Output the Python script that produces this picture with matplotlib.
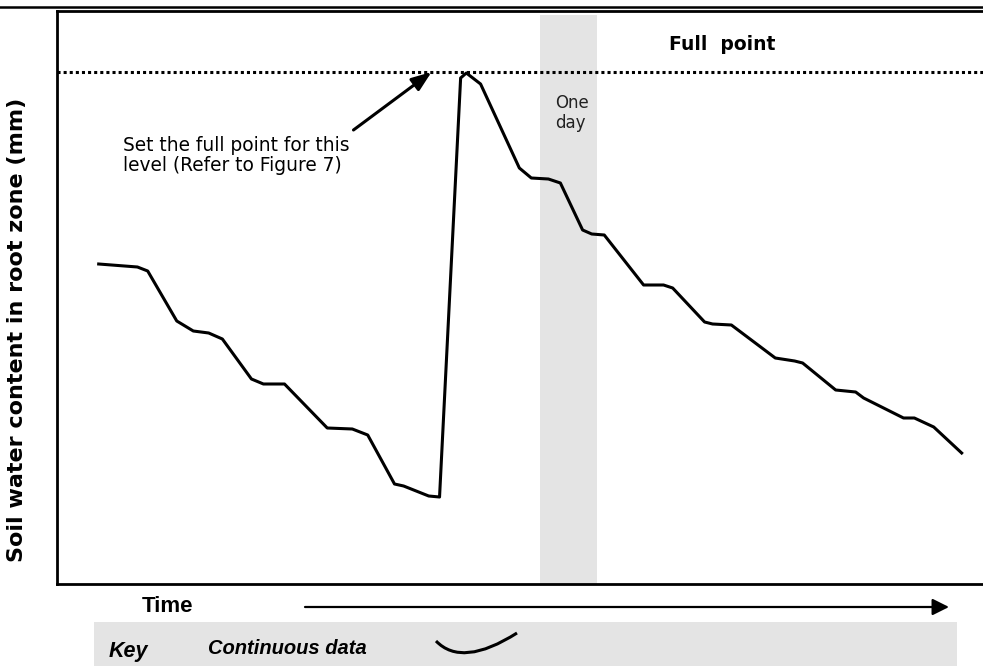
import matplotlib
matplotlib.use("Agg")
import matplotlib.pyplot as plt
from matplotlib.patches import FancyArrowPatch, Rectangle, PathPatch
from matplotlib.lines import Line2D
from matplotlib.path import Path

# ---------------- data ----------------
time_days = [0.74, 1.42, 1.60, 2.11, 2.40, 2.67, 2.91, 3.42, 3.63, 4.00,
             4.75, 5.19, 5.46, 5.93, 6.09, 6.53, 6.72,
             7.09, 7.19, 7.44, 8.12, 8.33, 8.63, 8.84,
             9.23, 9.39, 9.61, 10.30, 10.65, 10.81,
             11.37, 11.51, 11.84, 12.61, 12.95, 13.09,
             13.67, 14.02, 14.16, 14.86, 15.05, 15.39, 15.88]
water_mm = [63.6, 63.0, 62.2, 52.2, 50.2, 49.8, 48.6, 40.6, 39.6, 39.6,
            30.8, 30.6, 29.4, 19.6, 19.2, 17.2, 17.0,
            100.8, 101.8, 99.6, 82.8, 80.8, 80.6, 79.8,
            70.4, 69.6, 69.4, 59.4, 59.4, 58.8,
            52.0, 51.6, 51.4, 44.8, 44.2, 43.8,
            38.4, 38.0, 36.8, 32.8, 32.8, 31.0, 25.8]
full_point_mm = 102.0
one_day_start = 8.49
one_day_length = 1.0

ylabel = "Soil water content in root zone (mm)"
full_label = "Full  point"
day_label = "One\nday"
note_label = "Set the full point for this\nlevel (Refer to Figure 7)"
time_label = "Time"
key_label = "Key"
key_item = "Continuous data"

# ---------------- layout ----------------
W, H = 983, 666
fig = plt.figure(figsize=(W / 100, H / 100), dpi=100)


def fx(px):
    return px / W


def fy(py):
    return 1 - py / H


ax_left, ax_top, ax_bottom = 56.5, 10.5, 583.5
xmax = 16.4
px_per_day = 57
ax = fig.add_axes([fx(ax_left), fy(ax_bottom), xmax * px_per_day / W,
                   (ax_bottom - ax_top) / H])
ax.set_xlim(0, xmax)
ax.set_ylim(-0.3, 114.3)
ax.set_xticks([])
ax.set_yticks([])
for s in ax.spines.values():
    s.set_linewidth(2.0)
    s.set_color("black")

ax.axvspan(one_day_start, one_day_start + one_day_length, ymin=0, ymax=0.992,
           color="#e4e4e4", lw=0, zorder=0)
ax.axhline(full_point_mm, color="black", lw=2.2, ls=(0, (1, 1)),
           dash_capstyle="butt", zorder=2)
ax.plot(time_days, water_mm, color="black", lw=2.2,
        solid_joinstyle="round", zorder=3)

ax.text(11.67, 107.6, full_label, ha="center", va="center", fontsize=13.5,
        fontweight="bold", family="DejaVu Sans")
ax.text(8.75, 93.8, day_label, ha="left", va="center", fontsize=12,
        color="#222222", linespacing=1.15, family="DejaVu Sans")
ax.text(1.175, 89.2, note_label, ha="left", va="top", fontsize=13.4,
        family="DejaVu Sans", linespacing=1.06)
ax.annotate("", xy=(6.58, 102.0), xytext=(5.21, 90.4),
            arrowprops=dict(arrowstyle="-|>,head_length=1.2,head_width=0.45",
                            mutation_scale=10, color="black", lw=2.2,
                            shrinkA=0, shrinkB=0))

fig.text(fx(17.5), fy(330), ylabel, rotation=90, ha="center", va="center",
         fontsize=16, fontweight="bold", family="DejaVu Sans")

# header rule at top of page
fig.add_artist(Line2D([0, 1], [fy(6.5), fy(6.5)], transform=fig.transFigure,
                      color="black", lw=1.8))

# time axis arrow
fig.text(fx(168), fy(607), time_label, ha="center", va="center", fontsize=16,
         fontweight="bold", family="Liberation Sans")
fig.add_artist(FancyArrowPatch((fx(305), fy(607)), (fx(949), fy(607)),
                               transform=fig.transFigure,
                               arrowstyle="-|>,head_length=1.0,head_width=0.5",
                               mutation_scale=10, lw=1.6, color="black",
                               shrinkA=0, shrinkB=0))

# key box
fig.add_artist(Rectangle((fx(94), 0), (957 - 94) / W, (666 - 622) / H,
                         transform=fig.transFigure, facecolor="#e4e4e4",
                         lw=0, zorder=0))
fig.text(fx(109), fy(651), key_label, ha="left", va="center", fontsize=15.5,
         fontstyle="italic", fontweight="bold", family="Liberation Sans")
fig.text(fx(208), fy(648), key_item, ha="left", va="center", fontsize=14.5,
         fontstyle="italic", fontweight="bold", family="Liberation Sans")
glyph = Path([(fx(436), fy(641)), (fx(462), fy(668)), (fx(517), fy(633))],
             [Path.MOVETO, Path.CURVE3, Path.CURVE3])
fig.add_artist(PathPatch(glyph, transform=fig.transFigure, fill=False,
                         lw=2.2, color="black"))

fig.savefig("out.png", dpi=100)
